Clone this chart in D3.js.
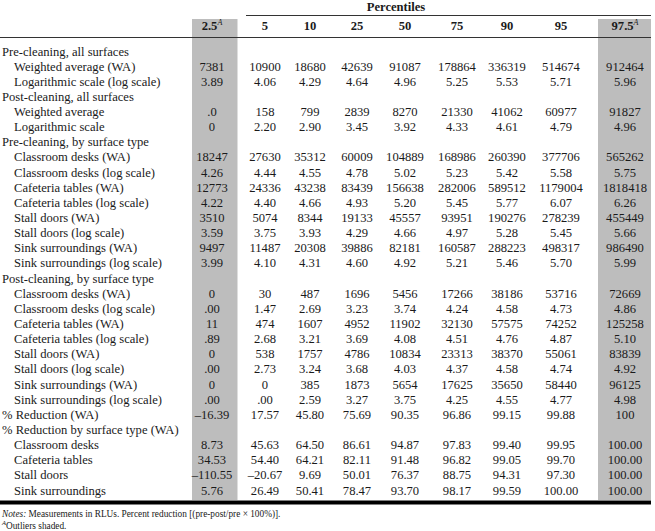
<!DOCTYPE html>
<html><head><meta charset="utf-8">
<script src="https://cdn.jsdelivr.net/npm/d3@7"></script>
<style>
html,body{margin:0;padding:0;background:#fff;}
svg{display:block;font-family:"Liberation Serif","Times New Roman",serif;}
</style></head>
<body><div id="chart"></div>
<script>
const percentiles = ["2.5","5","10","25","50","75","90","95","97.5"];
const shadedCols = ["2.5","97.5"];
const rowLabels = [
 "Pre-cleaning, all surfaces","Weighted average (WA)","Logarithmic scale (log scale)",
 "Post-cleaning, all surfaces","Weighted average","Logarithmic scale",
 "Pre-cleaning, by surface type","Classroom desks (WA)","Classroom desks (log scale)",
 "Cafeteria tables (WA)","Cafeteria tables (log scale)","Stall doors (WA)","Stall doors (log scale)",
 "Sink surroundings (WA)","Sink surroundings (log scale)",
 "Post-cleaning, by surface type","Classroom desks (WA)","Classroom desks (log scale)",
 "Cafeteria tables (WA)","Cafeteria tables (log scale)","Stall doors (WA)","Stall doors (log scale)",
 "Sink surroundings (WA)","Sink surroundings (log scale)",
 "% Reduction (WA)","% Reduction by surface type (WA)",
 "Classroom desks","Cafeteria tables","Stall doors","Sink surroundings"
];
const rowIndent = [0,1,1,0,1,1,0,1,1,1,1,1,1,1,1,0,1,1,1,1,1,1,1,1,0,0,1,1,1,1];
const rowValues = [
 null,
 ["7381","10900","18680","42639","91087","178864","336319","514674","912464"],
 ["3.89","4.06","4.29","4.64","4.96","5.25","5.53","5.71","5.96"],
 null,
 [".0","158","799","2839","8270","21330","41062","60977","91827"],
 ["0","2.20","2.90","3.45","3.92","4.33","4.61","4.79","4.96"],
 null,
 ["18247","27630","35312","60009","104889","168986","260390","377706","565262"],
 ["4.26","4.44","4.55","4.78","5.02","5.23","5.42","5.58","5.75"],
 ["12773","24336","43238","83439","156638","282006","589512","1179004","1818418"],
 ["4.22","4.40","4.66","4.93","5.20","5.45","5.77","6.07","6.26"],
 ["3510","5074","8344","19133","45557","93951","190276","278239","455449"],
 ["3.59","3.75","3.93","4.29","4.66","4.97","5.28","5.45","5.66"],
 ["9497","11487","20308","39886","82181","160587","288223","498317","986490"],
 ["3.99","4.10","4.31","4.60","4.92","5.21","5.46","5.70","5.99"],
 null,
 ["0","30","487","1696","5456","17266","38186","53716","72669"],
 [".00","1.47","2.69","3.23","3.74","4.24","4.58","4.73","4.86"],
 ["11","474","1607","4952","11902","32130","57575","74252","125258"],
 [".89","2.68","3.21","3.69","4.08","4.51","4.76","4.87","5.10"],
 ["0","538","1757","4786","10834","23313","38370","55061","83839"],
 [".00","2.73","3.24","3.68","4.03","4.37","4.58","4.74","4.92"],
 ["0","0","385","1873","5654","17625","35650","58440","96125"],
 [".00",".00","2.59","3.27","3.75","4.25","4.55","4.77","4.98"],
 ["–16.39","17.57","45.80","75.69","90.35","96.86","99.15","99.88","100"],
 null,
 ["8.73","45.63","64.50","86.61","94.87","97.83","99.40","99.95","100.00"],
 ["34.53","54.40","64.21","82.11","91.48","96.82","99.05","99.70","100.00"],
 ["–110.55","–20.67","9.69","50.01","76.37","88.75","94.31","97.30","100.00"],
 ["5.76","26.49","50.41","78.47","93.70","98.17","99.59","100.00","100.00"]
];
const headerTitle = "Percentiles";
const noteText = "Measurements in RLUs. Percent reduction [(pre-post/pre × 100%)].";
const footText = "Outliers shaded.";

const W = 655, H = 531;
const svg = d3.select("#chart").append("svg").attr("width", W).attr("height", H);

// column centre positions
const x = d3.scaleOrdinal().domain(percentiles)
  .range([212, 265, 310, 357, 405, 457, 507, 561, 625]);
const shadeExtent = {"2.5":[192,237.5], "97.5":[598,651]};
// row centres
const y = d3.scaleLinear().domain([0, rowLabels.length - 1]).range([51, 490]);

const ink = "#1a1a1a";
const fs = 12.6;

// shading
svg.selectAll("rect.shade").data(shadedCols).join("rect")
  .attr("class","shade")
  .attr("x", d => shadeExtent[d][0])
  .attr("width", d => shadeExtent[d][1] - shadeExtent[d][0])
  .attr("y", 19).attr("height", 500 - 19)
  .attr("fill", "#bdbdbd");

// rules
svg.append("line").attr("x1",246).attr("x2",651).attr("y1",15.5).attr("y2",15.5)
  .attr("stroke","#333").attr("stroke-width",1);
svg.append("line").attr("x1",0).attr("x2",651).attr("y1",37.5).attr("y2",37.5)
  .attr("stroke","#333").attr("stroke-width",1);
svg.append("rect").attr("x",0).attr("width",651).attr("y",500.5).attr("height",4)
  .attr("fill","#000");

// Header
svg.append("text").attr("x", 396).attr("y", 10.5).attr("text-anchor","middle")
  .attr("font-weight","bold").attr("font-size",fs).attr("fill",ink).text(headerTitle);

const hdr = svg.selectAll("text.colh").data(percentiles).join("text")
  .attr("class","colh")
  .attr("x", d => x(d)).attr("y", 30)
  .attr("text-anchor","middle").attr("font-weight","bold").attr("font-size",fs).attr("fill",ink);
hdr.append("tspan").text(d => d);
hdr.filter(d => shadedCols.includes(d)).append("tspan")
  .attr("font-size", 8).attr("dy", -5).attr("font-style","italic").attr("font-weight","normal").text("A");

// Row labels
svg.selectAll("text.rowlab").data(rowLabels).join("text")
  .attr("class","rowlab")
  .attr("x", (d,i) => rowIndent[i] ? 14 : 2)
  .attr("y", (d,i) => y(i) + 4.5)
  .attr("font-size",fs).attr("fill",ink).text(d => d);

// Values
const cells = [];
rowValues.forEach((r,i) => { if (r) r.forEach((v,j) => cells.push({i, col: percentiles[j], v})); });
svg.selectAll("text.cell").data(cells).join("text")
  .attr("class","cell")
  .attr("x", d => x(d.col)).attr("y", d => y(d.i) + 4.5)
  .attr("text-anchor","middle").attr("font-size",fs).attr("fill",ink).text(d => d.v);

// Notes
const n1 = svg.append("text").attr("x",2).attr("y",517).attr("font-size",9.3).attr("fill",ink);
n1.append("tspan").attr("font-style","italic").text("Notes:");
n1.append("tspan").text(" " + noteText);
const n2 = svg.append("text").attr("x",2).attr("y",528.5).attr("font-size",9.3).attr("fill",ink);
n2.append("tspan").attr("font-style","italic").attr("font-size",6.5).attr("dy",-3.5).text("A");
n2.append("tspan").attr("dy",3.5).text(footText);
</script>
</body></html>
